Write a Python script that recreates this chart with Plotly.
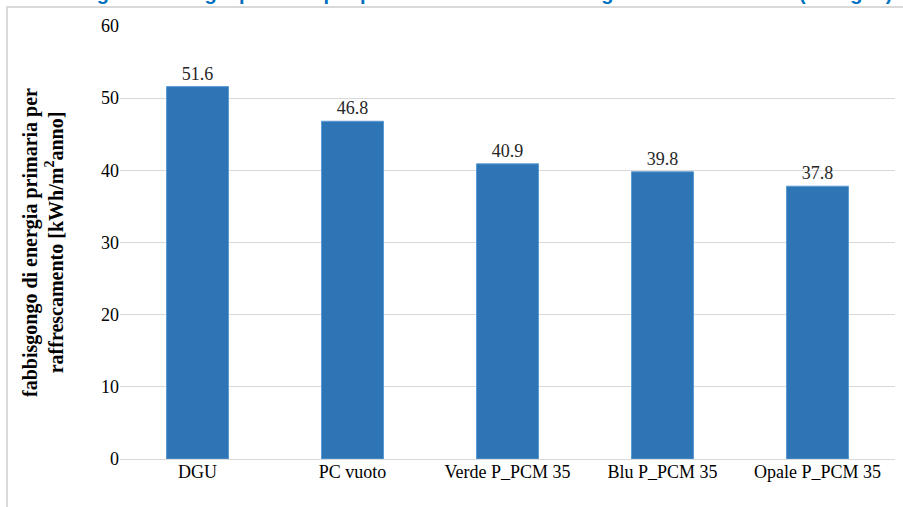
import plotly.graph_objects as go

# dati
categorie = ["DGU", "PC vuoto", "Verde P_PCM 35", "Blu P_PCM 35", "Opale P_PCM 35"]
fabbisogno = [51.6, 46.8, 40.9, 39.8, 37.8]
tick_y = [0, 10, 20, 30, 40, 50, 60]

titolo = "Fabbisogno di energia primaria per periodo estivo nelle configurazioni di facciata (Bologna)"
titolo_asse_y = "fabbisgongo di energia primaria per<br>raffrescamento [kWh/m<sup>2</sup>anno]"

BLU = "#2E75B6"
GRIGIO = "#D9D9D9"
FONT = "Liberation Serif, Times New Roman, serif"

# etichette con spazi larghi come nell'originale
etichette_x = [c.replace(" ", "\u00a0") for c in categorie]

fig = go.Figure()

fig.add_trace(go.Bar(
    x=etichette_x, y=fabbisogno,
    marker=dict(color=BLU, line=dict(color="#5B9BD5", width=1)),
    text=[f"{v:.1f}" for v in fabbisogno],
    textposition="outside",
    textfont=dict(family=FONT, size=18, color="#262626"),
    cliponaxis=False,
    showlegend=False,
))

# bordo area grafico (grigio chiaro, in alto a sinistra)
fig.add_shape(
    type="rect", xref="paper", yref="paper",
    x0=-0.1458, x1=1.2, y0=-0.3, y1=1.0439,
    line=dict(color=GRIGIO, width=2),
    fillcolor="rgba(0,0,0,0)", layer="below",
)

# titolo tagliato in alto (si vedono solo le code delle lettere)
fig.add_annotation(
    text=f"<b>{titolo}</b>", xref="paper", yref="paper",
    x=-0.1315, y=1.047, xanchor="left", yanchor="bottom",
    showarrow=False,
    font=dict(family="Liberation Sans, Arial, sans-serif", size=20, color="#0070C0"),
)

fig.update_layout(
    width=903, height=507,
    paper_bgcolor="white",
    plot_bgcolor="white",
    font=dict(family=FONT, color="#000000"),
    margin=dict(l=120, r=8, t=26, b=48),
    bargap=0.6,
    xaxis=dict(
        tickfont=dict(family=FONT, size=18, color="#000000"),
        showgrid=False,
        showline=False,
        ticks="",
    ),
    yaxis=dict(
        range=[0, 60],
        tickvals=tick_y,
        tickfont=dict(family=FONT, size=18, color="#000000"),
        gridcolor=GRIGIO,
        gridwidth=1,
        zeroline=True,
        zerolinecolor=GRIGIO,
        zerolinewidth=1,
        showline=False,
        ticks="",
        ticklen=0,
        title=dict(
            text=titolo_asse_y,
            font=dict(family=FONT, size=20, color="#000000", weight="bold"),
            standoff=32,
        ),
    ),
)

fig.write_html(
    "out.html",
    config={"displayModeBar": False},
    post_script="document.body.style.margin='0';",
)
